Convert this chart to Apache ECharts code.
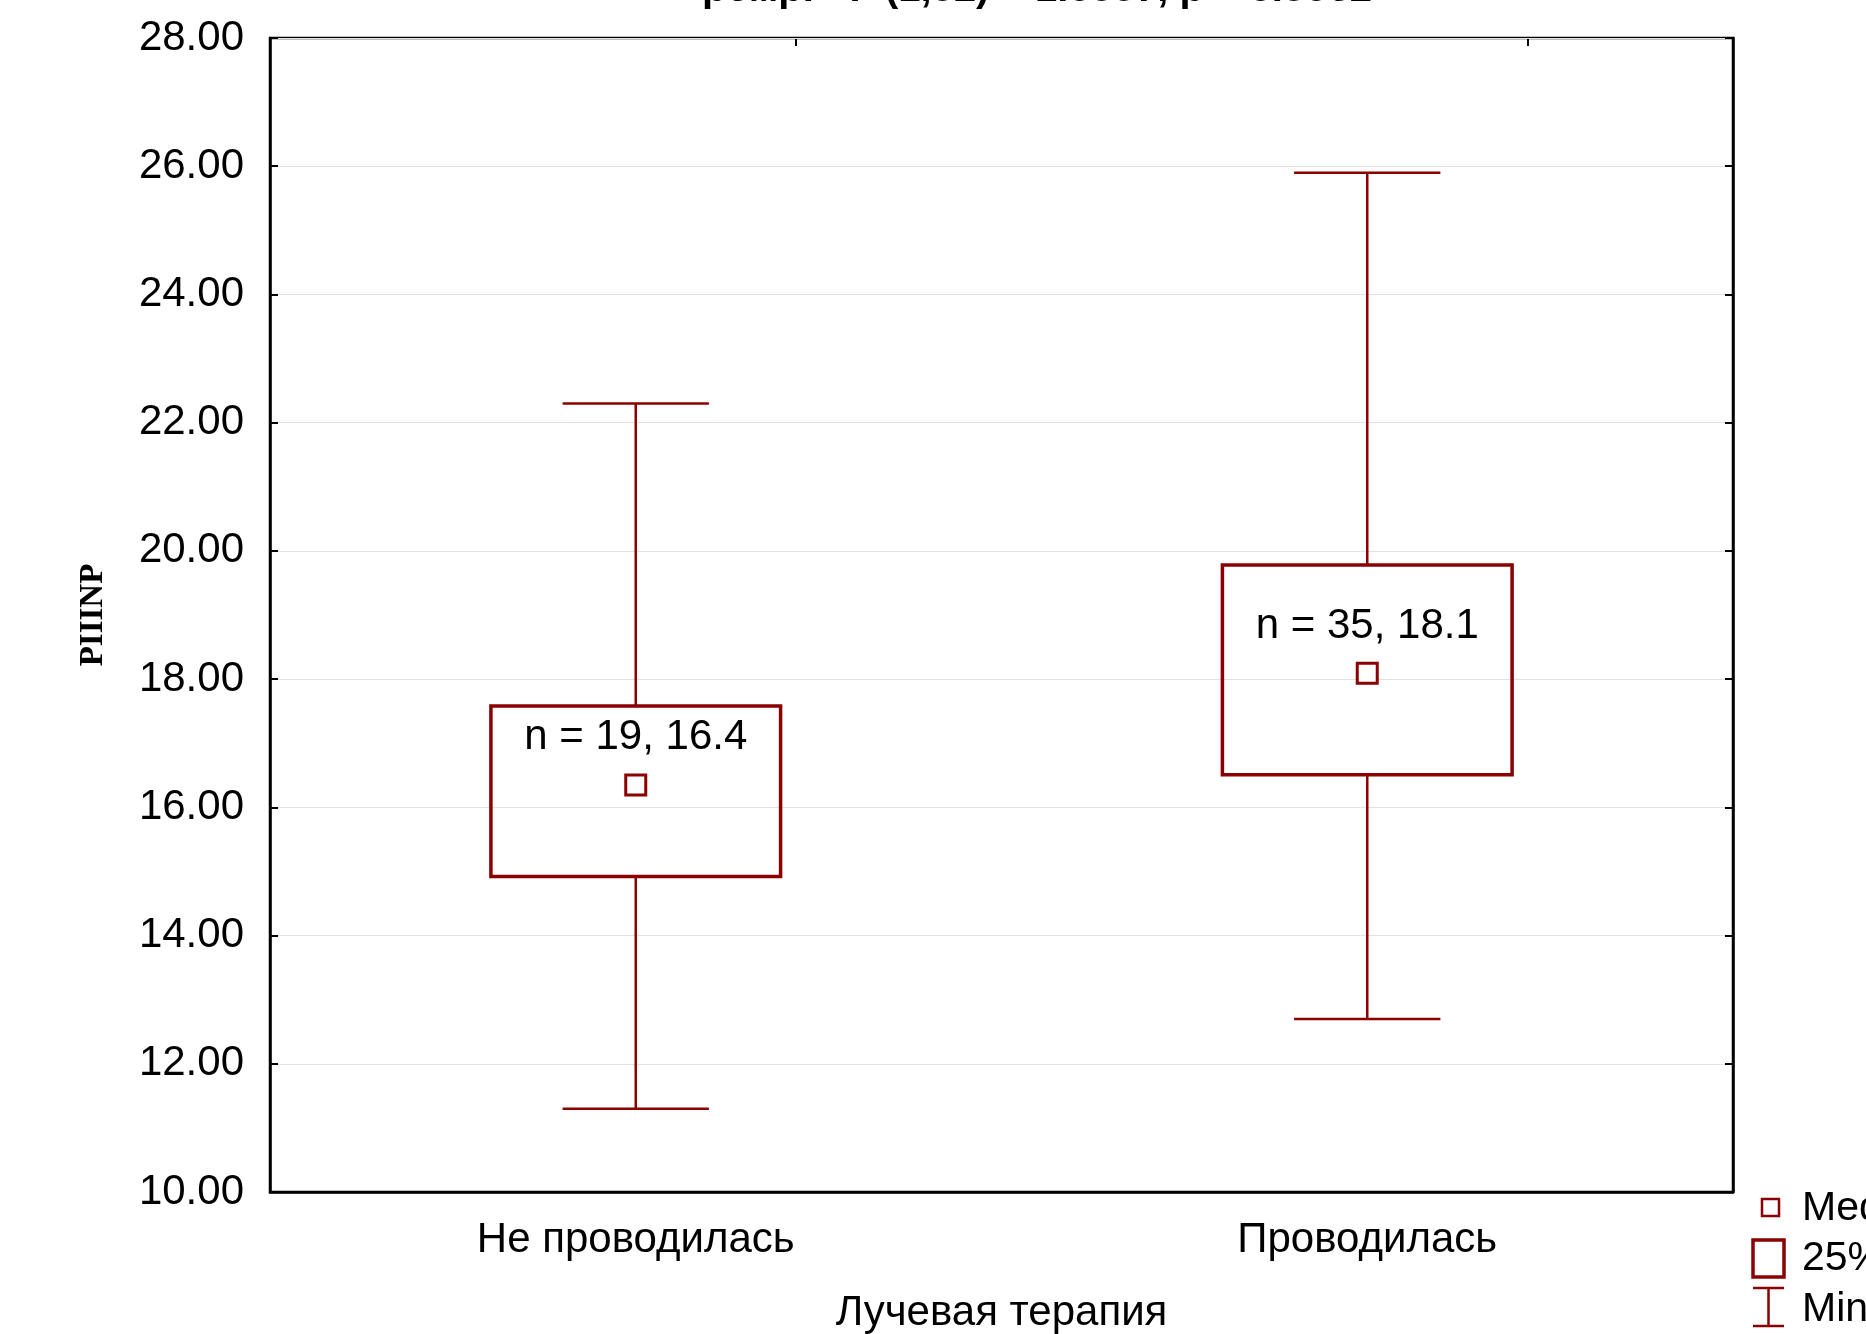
<!DOCTYPE html>
<html>
<head>
<meta charset="utf-8">
<script src="https://cdn.jsdelivr.net/npm/echarts@6/dist/echarts.min.js"></script>
<style>
html,body{margin:0;padding:0;background:#fff;}
#main{width:1866px;height:1334px;}
</style>
</head>
<body>
<div id="main"></div>
<script>
// данные
var categories = ['Не проводилась', 'Проводилась'];
var counts = [19, 35];
var minVals = [11.3, 12.7];
var q1Vals = [14.92, 16.51];
var medians = [16.35, 18.09];
var q3Vals = [17.58, 19.78];
var maxVals = [22.3, 25.9];
var yTicks = [10, 12, 14, 16, 18, 20, 22, 24, 26, 28];

var boxColor = '#8b0000';
var font = 'Liberation Sans, Arial, sans-serif';

var boxData = categories.map(function (c, i) {
    return [i, minVals[i], q1Vals[i], medians[i], q3Vals[i], maxVals[i], counts[i]];
});

function renderBox(params, api) {
    var idx = api.value(0);
    var unit = api.size([1, 0])[0];
    var half = unit * 0.198;
    var capHalf = unit * 0.1;
    var pMin = api.coord([idx, api.value(1)]);
    var pQ1 = api.coord([idx, api.value(2)]);
    var pMed = api.coord([idx, api.value(3)]);
    var pQ3 = api.coord([idx, api.value(4)]);
    var pMax = api.coord([idx, api.value(5)]);
    var x = pMed[0];
    var lw = {stroke: boxColor, lineWidth: 2.5, fill: null};
    var med = api.value(3);
    return {
        type: 'group',
        children: [
            {type: 'line', shape: {x1: x, y1: pMax[1], x2: x, y2: pQ3[1]}, style: lw},
            {type: 'line', shape: {x1: x, y1: pQ1[1], x2: x, y2: pMin[1]}, style: lw},
            {type: 'line', shape: {x1: x - capHalf, y1: pMax[1], x2: x + capHalf, y2: pMax[1]}, style: lw},
            {type: 'line', shape: {x1: x - capHalf, y1: pMin[1], x2: x + capHalf, y2: pMin[1]}, style: lw},
            {type: 'rect', shape: {x: x - half, y: pQ3[1], width: half * 2, height: pQ1[1] - pQ3[1]},
                style: {stroke: boxColor, lineWidth: 3.5, fill: null}},
            {type: 'rect', shape: {x: x - 10, y: pMed[1] - 10, width: 20, height: 20},
                style: {stroke: boxColor, lineWidth: 3, fill: '#fff'}},
            {type: 'text', x: x, y: pMed[1] - 47,
                style: {text: 'n = ' + api.value(6) + ', ' + med.toFixed(1), fill: '#000',
                    font: '42px ' + font, align: 'center', verticalAlign: 'middle'}}
        ]
    };
}

var chart = echarts.init(document.getElementById('main'));
var option = {
    backgroundColor: '#fff',
    animation: false,
    grid: {left: 270, right: 133, top: 38, bottom: 142, show: true, outerBoundsMode: 'none',
        containLabel: false, borderColor: '#000', borderWidth: 2.5, backgroundColor: 'transparent'},
    xAxis: [{
        type: 'category',
        data: categories,
        name: 'Лучевая терапия',
        nameLocation: 'middle',
        nameGap: 100,
        nameTextStyle: {fontSize: 42, fontFamily: font, color: '#000'},
        axisLine: {lineStyle: {color: '#000', width: 2.5}},
        axisTick: {alignWithLabel: true, length: 8, lineStyle: {color: '#000', width: 2}},
        axisLabel: {fontSize: 42, fontFamily: font, color: '#000', margin: 27},
        splitLine: {show: false}
    }],
    yAxis: [{
        type: 'value',
        min: yTicks[0],
        max: yTicks[yTicks.length - 1],
        interval: 2,
        name: 'PIIINP',
        nameLocation: 'middle',
        nameGap: 160,
        nameRotate: 90,
        nameTextStyle: {fontSize: 33, fontWeight: 'bold', fontFamily: 'Liberation Serif, Times New Roman, serif', color: '#000'},
        axisLine: {show: true, lineStyle: {color: '#000', width: 2.5}},
        axisTick: {show: true, inside: true, length: 8, lineStyle: {color: '#000', width: 2}},
        axisLabel: {fontSize: 42, fontFamily: font, color: '#000', margin: 26,
            formatter: function (v) { return v.toFixed(2); }},
        splitLine: {show: true, lineStyle: {color: '#e2e2e2', width: 1.2}}
    }, {
        type: 'value',
        position: 'right',
        min: yTicks[0],
        max: yTicks[yTicks.length - 1],
        interval: 2,
        axisLine: {show: true, lineStyle: {color: '#000', width: 2.5}},
        axisTick: {show: true, inside: true, length: 8, lineStyle: {color: '#000', width: 2}},
        axisLabel: {show: false},
        splitLine: {show: false}
    }],
    series: [{
        type: 'custom',
        renderItem: renderBox,
        data: boxData,
        encode: {x: 0, y: [1, 2, 3, 4, 5]},
        clip: false,
        z: 5
    }],
    graphic: [
        // обрезанный заголовок
        {type: 'text', x: 1037, y: 10,
            style: {text: 'рсмр. - F (1,52) = 1.0557, p = 0.3062', font: 'bold 40px ' + font,
                fill: '#000', align: 'center', verticalAlign: 'bottom'}},
        // верхние засечки
        {type: 'line', shape: {x1: 796, y1: 38, x2: 796, y2: 46}, style: {stroke: '#000', lineWidth: 2}},
        {type: 'line', shape: {x1: 1528, y1: 38, x2: 1528, y2: 46}, style: {stroke: '#000', lineWidth: 2}},
        // легенда
        {type: 'rect', shape: {x: 1762, y: 1199, width: 17, height: 17}, style: {stroke: boxColor, lineWidth: 2.5, fill: null}},
        {type: 'text', x: 1802, y: 1209, style: {text: 'Median', font: '41px ' + font, fill: '#000', verticalAlign: 'middle'}},
        {type: 'rect', shape: {x: 1753, y: 1240, width: 31, height: 37}, style: {stroke: boxColor, lineWidth: 3.5, fill: null}},
        {type: 'text', x: 1802, y: 1259, style: {text: '25%-75%', font: '41px ' + font, fill: '#000', verticalAlign: 'middle'}},
        {type: 'line', shape: {x1: 1753, y1: 1288, x2: 1784, y2: 1288}, style: {stroke: boxColor, lineWidth: 2.5}},
        {type: 'line', shape: {x1: 1753, y1: 1326, x2: 1784, y2: 1326}, style: {stroke: boxColor, lineWidth: 2.5}},
        {type: 'line', shape: {x1: 1768.5, y1: 1288, x2: 1768.5, y2: 1326}, style: {stroke: boxColor, lineWidth: 2.5}},
        {type: 'text', x: 1802, y: 1310, style: {text: 'Min-Max', font: '41px ' + font, fill: '#000', verticalAlign: 'middle'}}
    ]
};
chart.setOption(option);
</script>
</body>
</html>
